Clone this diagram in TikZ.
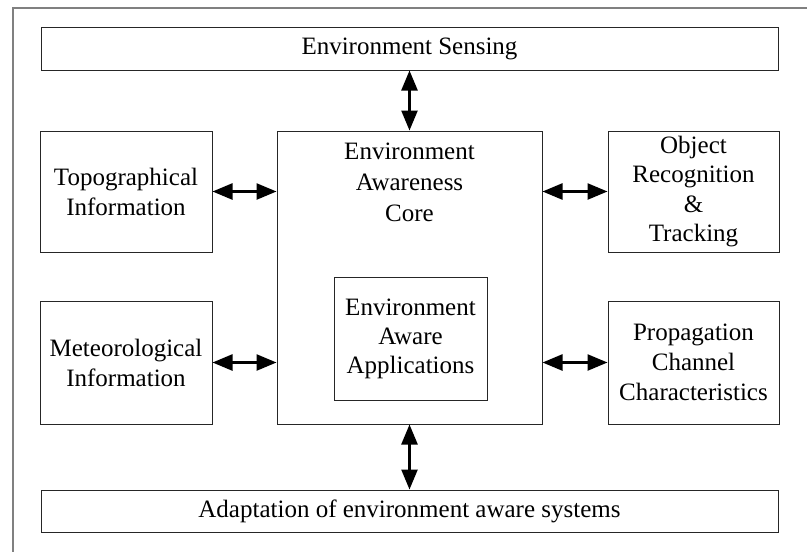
\documentclass[tikz,border=0pt]{standalone}
\usepackage{fontspec}
\setmainfont{Liberation Serif}
\usetikzlibrary{arrows.meta}
\begin{document}
\begin{tikzpicture}[x=1pt,y=-1pt,
  box/.style={draw=black!85, line width=1pt, inner sep=0pt, align=center, font=\fontsize{25}{30}\selectfont},
  plain/.style={inner sep=0pt, align=center},
  link/.style={{Triangle[length=20pt,width=16pt]}-{Triangle[length=20pt,width=16pt]}, line width=2.5pt}]
\useasboundingbox (0,0) rectangle (807,552);
\draw[black!50, line width=1.5pt] (13,552) -- (13,8) -- (807,8);
\node[box, minimum width=737pt, minimum height=43pt] (sense) at (409.5,48.5) {Environment Sensing};
\node[box, minimum width=172pt, minimum height=121pt] (topo) at (126,191.5) {Topographical\\Information};
\node[box, minimum width=172pt, minimum height=123pt] (meteo) at (126,362.5) {Meteorological\\Information};
\node[box, minimum width=171pt, minimum height=121pt, font=\fontsize{25}{29.5}\selectfont] (obj) at (693.5,191.5) {Object\\Recognition\\\&\\Tracking};
\node[box, minimum width=171pt, minimum height=123pt] (prop) at (693.5,362.5) {Propagation\\Channel\\Characteristics};
\node[box, minimum width=265pt, minimum height=293pt] (core) at (409.5,277.5) {};
\node[plain, anchor=north, font=\fontsize{25}{31}\selectfont] (corelabel) at (409.5,143) {Environment\\Awareness\\Core};
\node[box, minimum width=153pt, minimum height=123pt, font=\fontsize{25}{29}\selectfont] (apps) at (410.5,338.5) {Environment\\Aware\\Applications};
\node[box, minimum width=737pt, minimum height=42pt] (adapt) at (409.5,511) {Adaptation of environment aware systems};
\draw[link] (topo.east) -- (topo.east -| core.west);
\draw[link] (meteo.east) -- (meteo.east -| core.west);
\draw[link] (obj.west) -- (obj.west -| core.east);
\draw[link] (prop.west) -- (prop.west -| core.east);
\draw[link] (core.north) -- (core.north |- sense.south);
\draw[link] (core.south) -- (core.south |- adapt.north);
\end{tikzpicture}
\end{document}
